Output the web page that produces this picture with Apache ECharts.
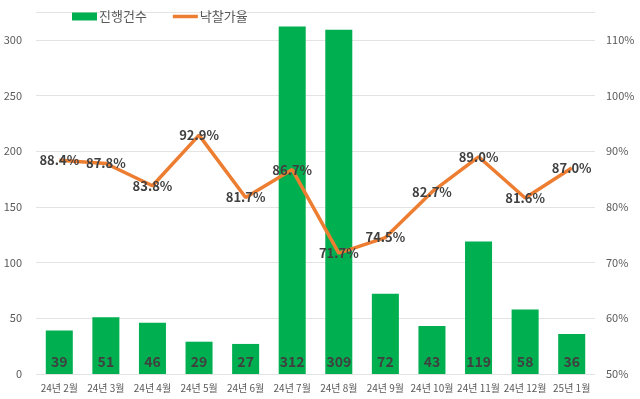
<!DOCTYPE html>
<html><head><meta charset="utf-8">
<script src="https://cdn.jsdelivr.net/npm/echarts@6/dist/echarts.min.js"></script>
<style>html,body{margin:0;padding:0;background:#fff}#c{width:640px;height:399px}</style>
</head><body><div id="c"></div>
<script>
const categories = ['24년 2월','24년 3월','24년 4월','24년 5월','24년 6월','24년 7월','24년 8월','24년 9월','24년 10월','24년 11월','24년 12월','25년 1월'];
const countValues = [39, 51, 46, 29, 27, 312, 309, 72, 43, 119, 58, 36];
const rateValues = [88.4, 87.8, 83.8, 92.9, 81.7, 86.7, 71.7, 74.5, 82.7, 89.0, 81.6, 87.0];
const FONT = '"Noto Sans CJK KR", "Noto Sans", sans-serif';
const LINE_ICON = 'path://M0,0 L0.02,0 L0,0.02 Z M0,2.3 L25,2.3 L25,5.7 L0,5.7 Z M25,8 L24.98,8 L25,7.98 Z';
const chart = echarts.init(document.getElementById('c'), null, {renderer:'canvas'});
chart.setOption({
  animation: false,
  textStyle: {fontFamily: FONT},
  legend: {
    top: 5, left: 67, itemGap: 26, itemWidth: 25, itemHeight: 8,
    textStyle: {fontFamily: FONT, fontSize: 13, color: '#595959', padding:[0,0,0,-3]},
    data: [{name:'진행건수', icon:'rect'}, {name:'낙찰가율', icon: LINE_ICON}]
  },
  grid: {left: 36, right: 45, top: 12, bottom: 25},
  xAxis: {
    type: 'category', data: categories,
    axisLine: {show: false}, axisTick: {show: false},
    axisLabel: {fontFamily: FONT, fontSize: 10, color: '#595959', margin: 9, interval: 0}
  },
  yAxis: [{
    type: 'value', min: 0, max: 325, interval: 50,
    axisLabel: {fontFamily: FONT, fontSize: 11, color: '#595959', margin: 14, showMaxLabel: false},
    splitLine: {lineStyle: {color: '#e3e3e3', width: 1}},
    axisLine: {show: false}, axisTick: {show: false}
  }, {
    type: 'value', min: 50, max: 115, interval: 10,
    axisLabel: {fontFamily: FONT, fontSize: 11, color: '#595959', margin: 11, formatter: '{value}%', showMaxLabel: false},
    splitLine: {show: false},
    axisLine: {show: false}, axisTick: {show: false}
  }],
  series: [{
    name: '진행건수', type: 'bar', data: countValues, barWidth: '58%',
    itemStyle: {color: '#00B050'},
    label: {show: true, position: 'insideBottom', distance: 5, fontFamily: FONT, fontSize: 14, fontWeight: 'bold', color: '#404040'}
  }, {
    name: '낙찰가율', type: 'line', yAxisIndex: 1, data: rateValues,
    symbol: 'circle', symbolSize: 1, showSymbol: true,
    lineStyle: {color: '#ED7D31', width: 3.5},
    itemStyle: {color: '#ED7D31'},
    label: {show: true, position: 'inside', formatter: p => p.value.toFixed(1) + '%', fontFamily: FONT, fontSize: 13, fontWeight: 'bold', color: '#404040'}
  }]
});
</script></body></html>
